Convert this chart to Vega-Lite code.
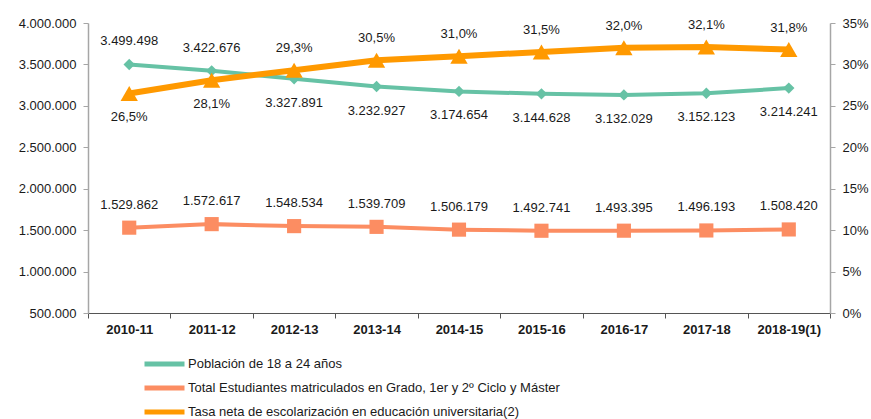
{
  "$schema": "https://vega.github.io/schema/vega-lite/v6.json",
  "width": 742,
  "height": 290,
  "autosize": "none",
  "padding": {"left": 88, "top": 23, "right": 41, "bottom": 106},
  "background": "white",
  "config": {
    "locale": {"number": {"decimal": ",", "thousands": ".", "grouping": [3], "currency": ["", " €"]}},
    "font": "Liberation Sans",
    "view": {"stroke": null},
    "text": {"font": "Liberation Sans", "fontSize": 13, "color": "#1a1a1a"}
  },
  "data": {
    "values": [
      {"period": "2010-11", "poblacion": 3499498, "estudiantes": 1529862, "tasa": 0.265},
      {"period": "2011-12", "poblacion": 3422676, "estudiantes": 1572617, "tasa": 0.281},
      {"period": "2012-13", "poblacion": 3327891, "estudiantes": 1548534, "tasa": 0.293},
      {"period": "2013-14", "poblacion": 3232927, "estudiantes": 1539709, "tasa": 0.305},
      {"period": "2014-15", "poblacion": 3174654, "estudiantes": 1506179, "tasa": 0.310},
      {"period": "2015-16", "poblacion": 3144628, "estudiantes": 1492741, "tasa": 0.315},
      {"period": "2016-17", "poblacion": 3132029, "estudiantes": 1493395, "tasa": 0.320},
      {"period": "2017-18", "poblacion": 3152123, "estudiantes": 1496193, "tasa": 0.321},
      {"period": "2018-19(1)", "poblacion": 3214241, "estudiantes": 1508420, "tasa": 0.318}
    ]
  },
  "encoding": {
    "x": {
      "field": "period", "type": "ordinal", "sort": null,
      "scale": {"paddingInner": 0, "paddingOuter": 0},
      "axis": {
        "title": null, "labelAngle": 0, "tickBand": "extent", "domainColor": "#555555", "tickColor": "#555555",
        "tickSize": 5, "labelPadding": 5, "labelFontSize": 13, "labelFontWeight": "bold", "labelColor": "#1a1a1a",
        "labelFont": "Liberation Sans", "grid": false
      }
    }
  },
  "layer": [
    {
      "encoding": {
        "y": {
          "type": "quantitative",
          "scale": {"domain": [500000, 4000000], "zero": false, "nice": false}
        }
      },
      "layer": [
        {
          "mark": {"type": "line", "strokeWidth": 4},
          "encoding": {
            "y": {"field": "poblacion", "type": "quantitative", "scale": {"domain": [500000, 4000000], "zero": false, "nice": false},
              "axis": {"title": null, "orient": "left", "format": ",.0f", "values": [500000, 1000000, 1500000, 2000000, 2500000, 3000000, 3500000, 4000000],
                "grid": false, "domainColor": "#a6a6a6", "tickColor": "#a6a6a6", "domainWidth": 1.5, "tickSize": 5, "labelPadding": 7,
                "labelFontSize": 13, "labelColor": "#1a1a1a", "labelFont": "Liberation Sans"}},
            "color": {"datum": "Población de 18 a 24 años", "type": "nominal",
              "scale": {"domain": ["Población de 18 a 24 años", "Total Estudiantes matriculados en Grado, 1er y 2º Ciclo y Máster", "Tasa neta de escolarización en educación universitaria(2)"],
                "range": ["#66c2a5", "#fc8d62", "#ff9900"]},
              "legend": {
                "title": null, "orient": "none", "legendX": 54, "legendY": 329, "direction": "vertical",
                "symbolType": "stroke", "symbolSize": 1600, "symbolStrokeWidth": 5, "labelFontSize": 13, "labelColor": "#1a1a1a",
                "labelFont": "Liberation Sans", "labelOffset": 1, "rowPadding": 0, "clipHeight": 24, "labelLimit": 600
              }}
          }
        },
        {
          "mark": {"type": "point", "shape": "diamond", "filled": true, "size": 130, "opacity": 1},
          "encoding": {
            "y": {"field": "poblacion", "type": "quantitative"},
            "color": {"datum": "Población de 18 a 24 años", "type": "nominal"}
          }
        },
        {
          "mark": {"type": "line", "strokeWidth": 4},
          "encoding": {
            "y": {"field": "estudiantes", "type": "quantitative"},
            "color": {"datum": "Total Estudiantes matriculados en Grado, 1er y 2º Ciclo y Máster", "type": "nominal"}
          }
        },
        {
          "mark": {"type": "point", "shape": "square", "filled": true, "size": 200, "opacity": 1},
          "encoding": {
            "y": {"field": "estudiantes", "type": "quantitative"},
            "color": {"datum": "Total Estudiantes matriculados en Grado, 1er y 2º Ciclo y Máster", "type": "nominal"}
          }
        },
        {
          "mark": {"type": "text", "dy": -23},
          "encoding": {
            "y": {"field": "estudiantes", "type": "quantitative"},
            "text": {"field": "estudiantes", "type": "quantitative", "format": ",.0f"}
          }
        },
        {
          "transform": [{"filter": "indexof(['2010-11','2011-12'], datum.period) >= 0"}],
          "mark": {"type": "text", "dy": -23},
          "encoding": {
            "y": {"field": "poblacion", "type": "quantitative"},
            "text": {"field": "poblacion", "type": "quantitative", "format": ",.0f"}
          }
        },
        {
          "transform": [{"filter": "indexof(['2010-11','2011-12'], datum.period) < 0"}],
          "mark": {"type": "text", "dy": 24},
          "encoding": {
            "y": {"field": "poblacion", "type": "quantitative"},
            "text": {"field": "poblacion", "type": "quantitative", "format": ",.0f"}
          }
        }
      ]
    },
    {
      "layer": [
        {
          "mark": {"type": "line", "strokeWidth": 6},
          "encoding": {
            "y": {"field": "tasa", "type": "quantitative", "scale": {"domain": [0, 0.35], "nice": false},
              "axis": {"title": null, "orient": "right", "format": ".0%", "values": [0, 0.05, 0.1, 0.15, 0.2, 0.25, 0.3, 0.35],
                "grid": false, "domainColor": "#a6a6a6", "tickColor": "#a6a6a6", "domainWidth": 1.5, "tickSize": 5, "labelPadding": 7,
                "labelFontSize": 13, "labelColor": "#1a1a1a", "labelFont": "Liberation Sans"}},
            "color": {"datum": "Tasa neta de escolarización en educación universitaria(2)", "type": "nominal"}
          }
        },
        {
          "mark": {"type": "point", "shape": "triangle-up", "filled": true, "size": 300, "opacity": 1},
          "encoding": {
            "y": {"field": "tasa", "type": "quantitative"},
            "color": {"datum": "Tasa neta de escolarización en educación universitaria(2)", "type": "nominal"}
          }
        },
        {
          "transform": [{"filter": "indexof(['2010-11','2011-12'], datum.period) >= 0"}],
          "mark": {"type": "text", "dy": 24},
          "encoding": {
            "y": {"field": "tasa", "type": "quantitative"},
            "text": {"field": "tasa", "type": "quantitative", "format": ".1%"}
          }
        },
        {
          "transform": [{"filter": "indexof(['2010-11','2011-12'], datum.period) < 0"}],
          "mark": {"type": "text", "dy": -22},
          "encoding": {
            "y": {"field": "tasa", "type": "quantitative"},
            "text": {"field": "tasa", "type": "quantitative", "format": ".1%"}
          }
        }
      ]
    }
  ],
  "resolve": {"scale": {"y": "independent"}}
}
